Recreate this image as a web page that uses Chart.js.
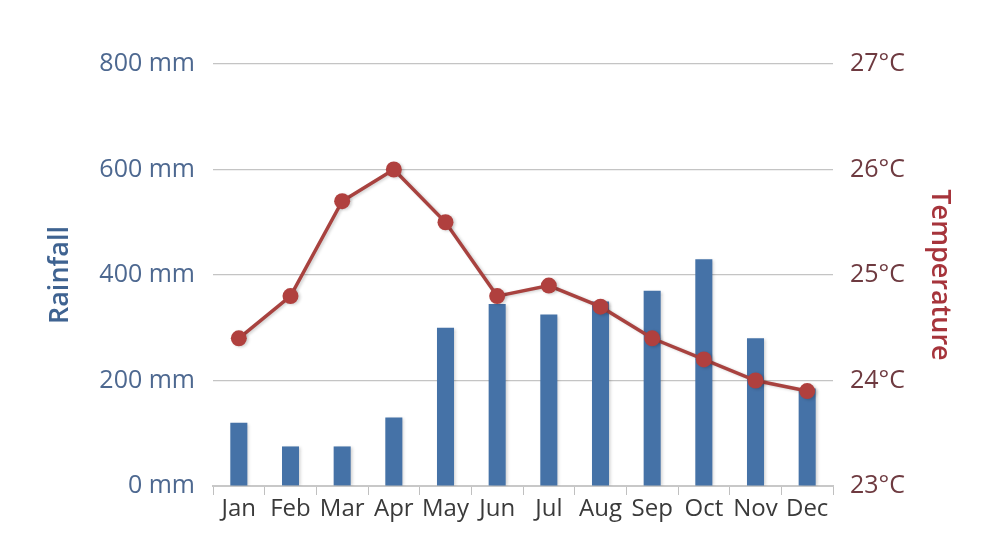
<!DOCTYPE html>
<html>
<head>
<meta charset="utf-8">
<script src="https://cdn.jsdelivr.net/npm/chart.js@4.4.1/dist/chart.umd.min.js"></script>
<style>
  html, body { margin: 0; padding: 0; background: #fff; }
  #wrap { width: 1000px; height: 559px; }
</style>
</head>
<body>
<div id="wrap"><canvas id="klima"></canvas></div>
<script>
// monthly climate data
const months = ['Jan', 'Feb', 'Mar', 'Apr', 'May', 'Jun', 'Jul', 'Aug', 'Sep', 'Oct', 'Nov', 'Dec'];
const rainfall = [120, 75, 75, 130, 300, 345, 325, 350, 370, 430, 280, 185];
const temperature = [24.4, 24.8, 25.7, 26.0, 25.5, 24.8, 24.9, 24.7, 24.4, 24.2, 24.0, 23.9];
const rainTicks = [0, 200, 400, 600, 800];
const tempTicks = [23, 24, 25, 26, 27];

const FONT = '"Open Sans", "DejaVu Sans", sans-serif';

// soft shadow behind bars and line, like the original
const sombra = {
  id: 'sombra',
  beforeDatasetDraw(chart, args) {
    const ctx = chart.ctx;
    ctx.save();
    ctx.shadowColor = 'rgba(0,0,0,0.18)';
    ctx.shadowBlur = 3;
    ctx.shadowOffsetX = 2;
    ctx.shadowOffsetY = 1;
  },
  afterDatasetDraw(chart) {
    chart.ctx.restore();
  }
};

const grafico = new Chart(document.getElementById('klima'), {
  data: {
    labels: months,
    datasets: [
      {
        type: 'line',
        label: 'Temperature',
        data: temperature,
        yAxisID: 'yTemp',
        borderColor: '#a8423f',
        backgroundColor: '#b0403e',
        borderWidth: 3.5,
        pointRadius: 8,
        pointBorderWidth: 0,
        tension: 0,
        order: 0
      },
      {
        type: 'bar',
        label: 'Rainfall',
        data: rainfall,
        yAxisID: 'yRain',
        backgroundColor: '#4572a7',
        borderWidth: 0,
        categoryPercentage: 1,
        barPercentage: 0.33,
        order: 1
      }
    ]
  },
  options: {
    responsive: true,
    maintainAspectRatio: false,
    animation: false,
    layout: { padding: { top: 64, left: 0, right: 0, bottom: 0 } },
    plugins: {
      legend: { display: false },
      tooltip: { enabled: false }
    },
    scales: {
      x: {
        offset: true,
        afterFit(s) { s.height = 73; },
        grid: {
          offset: true,
          drawOnChartArea: false,
          drawTicks: true,
          tickLength: 9,
          color: '#c0c0c0'
        },
        border: { color: '#c8c8c8', width: 2 },
        ticks: {
          autoSkip: false,
          maxRotation: 0,
          minRotation: 0,
          padding: 0,
          color: '#3a3a3a',
          font: { family: FONT, size: 24 }
        }
      },
      yRain: {
        position: 'left',
        min: 0,
        max: 800,
        afterFit(s) { s.width = 213; },
        afterBuildTicks(s) { s.ticks = rainTicks.map(v => ({ value: v })); },
        grid: { color: '#c4c4c4', lineWidth: 1.2, drawTicks: false },
        border: { display: false },
        ticks: {
          padding: 18,
          color: '#4d6890',
          font: { family: FONT, size: 25 },
          callback: v => v + ' mm'
        },
        title: {
          display: true,
          text: 'Rainfall',
          color: '#3f6391',
          padding: { top: 44, bottom: 0 },
          font: { family: FONT, size: 27, weight: '600' }
        }
      },
      yTemp: {
        position: 'right',
        min: 23,
        max: 27,
        afterFit(s) { s.width = 167; },
        afterBuildTicks(s) { s.ticks = tempTicks.map(v => ({ value: v })); },
        grid: { drawOnChartArea: false, drawTicks: false },
        border: { display: false },
        ticks: {
          padding: 17,
          color: '#6e3a40',
          font: { family: FONT, size: 25 },
          callback: v => v + '°C'
        },
        title: {
          display: true,
          text: 'Temperature',
          color: '#a6343b',
          padding: { top: 44, bottom: 0 },
          font: { family: FONT, size: 27, weight: '600' }
        }
      }
    }
  },
  plugins: [sombra]
});
</script>
</body>
</html>
